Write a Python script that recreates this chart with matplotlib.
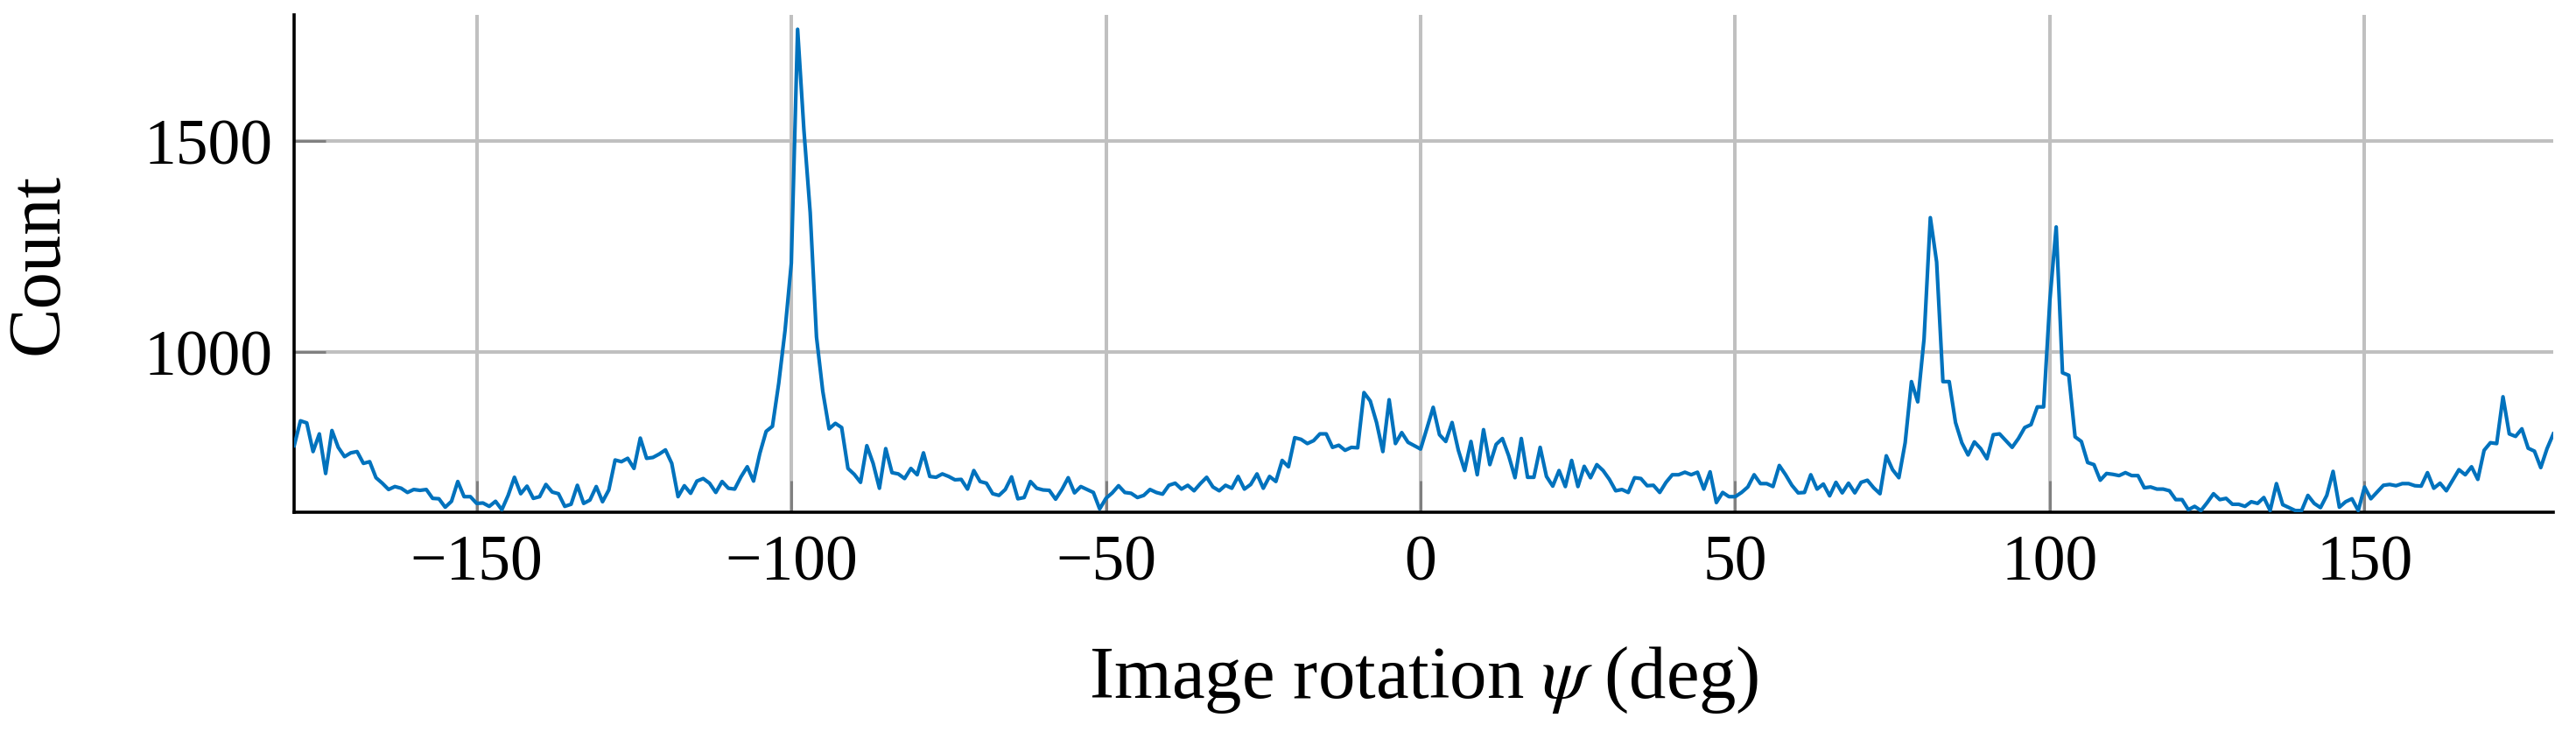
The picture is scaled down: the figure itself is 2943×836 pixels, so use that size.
import numpy as np
import matplotlib
matplotlib.use('Agg')
import matplotlib.pyplot as plt

# Histogram of image rotation angles, 1 degree bins
angles = np.arange(-179, 181)

counts_a = [777, 836, 831, 763, 805, 711, 813, 773, 751, 760, 763, 735, 739, 701, 688,
            673, 680, 676, 666, 673, 671, 673, 652, 651, 631, 645, 692, 656, 656, 640,
            641, 633, 645, 625, 659, 702, 663, 681, 652, 656, 685, 667, 663, 633, 638,
            683]  # -179 .. -134
counts_b = [640, 648, 680, 644, 672, 743, 739, 747, 723, 795, 747, 749, 757, 767, 735,
            656, 682, 664, 693, 699, 688, 666, 692, 676, 674, 703, 727, 693, 759, 811,
            823, 925, 1050, 1210, 1765, 1526, 1330, 1035, 906, 817, 830, 820, 723, 709]  # -133 .. -90
counts_c = [690, 777, 735, 676, 770, 713, 710, 699, 723, 708, 760, 704, 702, 710, 704,
            696, 697, 674, 718, 692, 688, 663, 659, 673, 703, 651, 654, 692, 676, 672,
            671, 650, 673, 701, 665, 680, 673, 666, 627, 652, 665, 682, 666, 664, 654]  # -89 .. -45
counts_d = [659, 673, 666, 662, 683, 688, 674, 683, 670, 687, 702, 679, 670, 683, 676,
            704, 674, 685, 710, 676, 704, 692, 742, 727, 796, 792, 782, 789, 805, 805,
            773, 778, 766, 773, 772, 903, 883, 832, 763, 886, 782, 808, 785, 777, 769]  # -44 .. 0
counts_e = [818, 868, 803, 787, 832, 766, 718, 787, 708, 815, 732, 780, 794, 753, 701,
            794, 702, 702, 773, 704, 681, 718, 680, 742, 680, 728, 701, 732, 718, 697,
            670, 673, 666, 701, 699, 682, 683, 666, 690, 708, 708, 714, 708, 714]  # 1 .. 44
counts_f = [674, 715, 642, 666, 656, 656, 666, 679, 708, 687, 687, 680, 730, 708, 683,
            665, 666, 708, 674, 686, 658, 690, 665, 688, 665, 690, 695, 677, 663, 753,
            720, 701, 784, 929, 881, 1030, 1318, 1213, 929, 929, 832, 784, 755, 786]  # 45 .. 88
counts_g = [770, 746, 803, 805, 789, 773, 794, 820, 827, 869, 869, 1123, 1296, 950, 944,
            798, 787, 737, 732, 695, 711, 709, 706, 713, 706, 706, 677, 679, 674, 674,
            670, 649, 649, 625, 633, 623, 642, 663, 649, 652, 638, 638, 633, 644, 640]  # 89 .. 133
counts_h = [654, 623, 687, 637, 630, 623, 623, 659, 640, 630, 659, 716, 631, 644, 651,
            623, 679, 651, 667, 683, 685, 682, 687, 687, 682, 681, 713, 676, 688, 670,
            695, 720, 708, 727, 697, 766, 784, 782, 893, 805, 799, 817, 771, 764, 725,
            770, 805]  # 134 .. 180

counts = np.array(counts_a + counts_b + counts_c + counts_d + counts_e + counts_f
                  + counts_g + counts_h)

x_ticks = [-150, -100, -50, 0, 50, 100, 150]
y_ticks = [1000, 1500]

plt.rcParams['font.family'] = ['Liberation Serif', 'DejaVu Serif']
plt.rcParams['mathtext.fontset'] = 'stix'

fig = plt.figure(figsize=(29.43, 8.37), dpi=100)
ax = fig.add_axes([0.1142, 0.3004, 0.9912 - 0.1142, 0.979 - 0.3004])

ax.plot(angles, counts, color='#0072BD', linewidth=3.0, zorder=3)

ax.set_xlim(-179, 180)
ax.set_ylim(620, 1800)
ax.set_xticks(x_ticks)
ax.set_yticks(y_ticks)
ax.grid(True, color='#c0c0c0', linewidth=2.9, zorder=0)
ax.set_axisbelow(True)

for side in ['top', 'right']:
    ax.spines[side].set_visible(False)
for side in ['left', 'bottom']:
    ax.spines[side].set_linewidth(2.6)
    ax.spines[side].set_color('black')

ax.tick_params(axis='both', direction='in', length=26, width=2.2, color='#808080',
               labelsize=53, pad=18)

ax.set_xlabel('Image rotation $\\psi$ (deg)', fontsize=61, labelpad=42)
ax.set_ylabel('Count', fontsize=61, labelpad=58)

fig.savefig('out.png', dpi=100)
